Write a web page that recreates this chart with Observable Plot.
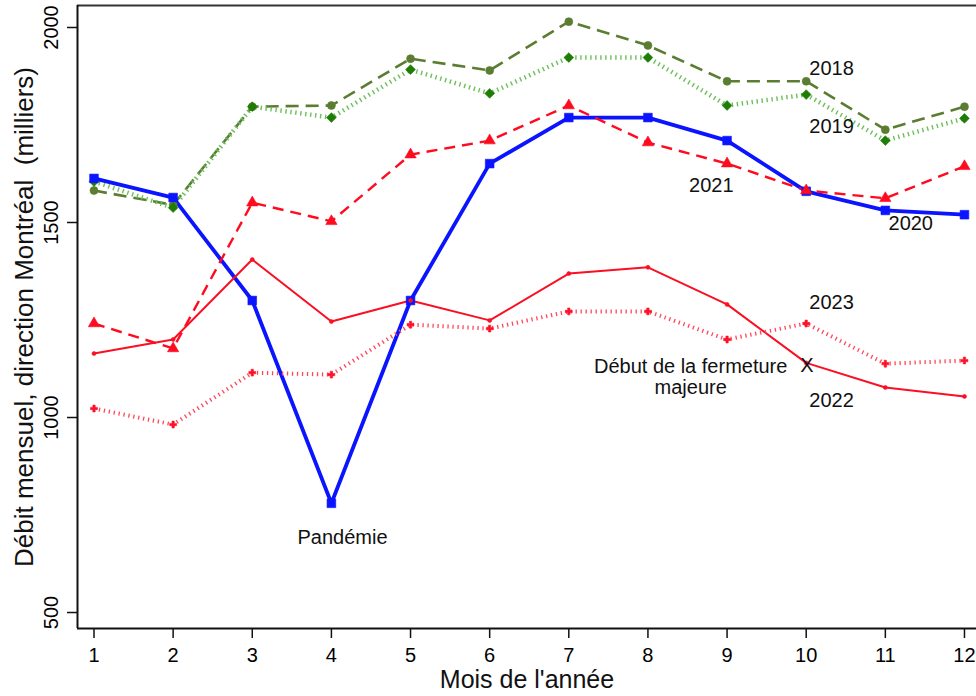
<!DOCTYPE html>
<html>
<head>
<meta charset="utf-8">
<script src="https://cdn.jsdelivr.net/npm/d3@7"></script>
<script src="https://cdn.jsdelivr.net/npm/@observablehq/plot@0.6"></script>
<style>
  html, body { margin: 0; padding: 0; background: #fff; }
</style>
</head>
<body>
<div id="chart"></div>
<script>
// ---- Data ----
const months = [1, 2, 3, 4, 5, 6, 7, 8, 9, 10, 11, 12];
const yTicks = [500, 1000, 1500, 2000];

const v2018 = [1582, 1545, 1797, 1800, 1920, 1890, 2015, 1954, 1862, 1862, 1738, 1797];
const v2019 = [1605, 1538, 1797, 1769, 1892, 1831, 1923, 1923, 1800, 1828, 1710, 1767];
const v2020 = [1613, 1564, 1300, 780, 1300, 1651, 1769, 1769, 1710, 1580, 1531, 1520];
const v2021 = [1241, 1177, 1551, 1503, 1674, 1710, 1800, 1705, 1651, 1582, 1562, 1644];
const v2022 = [1164, 1200, 1405, 1246, 1300, 1249, 1369, 1385, 1290, 1140, 1077, 1054];
const v2023 = [1023, 982, 1115, 1110, 1238, 1228, 1272, 1272, 1200, 1241, 1138, 1146];

const years = ["2018", "2019", "2020", "2021", "2022", "2023"];
const valuesByYear = {"2018": v2018, "2019": v2019, "2020": v2020, "2021": v2021, "2022": v2022, "2023": v2023};

// Series labels (data coordinates: month, value)
const labelText  = ["2018", "2019", "2021", "2020", "2023", "2022"];
const labelMonth = [10.04, 10.04, 8.52, 11.04, 10.04, 10.04];
const labelValue = [1895, 1746, 1595, 1497, 1295, 1044];

// Annotations
const noteText  = ["Pandémie", "Début de la fermeture\nmajeure", "X"];
const noteMonth = [4.14, 8.54, 10.01];
const noteValue = [694, 1104, 1133];

const xTitle = "Mois de l'année";
const yTitle = "Débit mensuel, direction Montréal  (milliers)";

// ---- Styles ----
const styles = {
  "2018": {stroke: "#5a7d32", width: 2.6, dash: "13,7", cap: "butt", symbol: "circle", r: 4, fill: "#5a7d32"},
  "2019": {stroke: "#6cbf5a", width: 4.5, dash: "1.4,3.6", cap: "butt", symbol: "diamond2", r: 4.4, fill: "#1f7d05"},
  "2020": {stroke: "#0a14ff", width: 3.8, dash: null, cap: "round", symbol: "square", r: 4.9, fill: "#0a14ff"},
  "2021": {stroke: "#ff0a1e", width: 2.4, dash: "11,7", cap: "butt", symbol: "triangle", r: 4.2, fill: "#ff0a1e"},
  "2022": {stroke: "#fa0f23", width: 2.0, dash: null, cap: "round", symbol: "circle", r: 2, fill: "#fa0f23"},
  "2023": {stroke: "#ff4658", width: 4, dash: "1.3,3.7", cap: "butt", symbol: "cross", r: 2.9, fill: "#ff1028"}
};

const xDomain = [0.7915, 12.152];
const yDomain = [459, 2056.4];

const marks = [];
for (const yr of years) {
  const s = styles[yr];
  const rows = months.map((m, i) => ({month: m, value: valuesByYear[yr][i], year: yr}));
  marks.push(Plot.line(rows, {
    x: "month", y: "value", stroke: s.stroke, strokeWidth: s.width,
    strokeDasharray: s.dash, strokeLinecap: s.cap, strokeLinejoin: "round"
  }));
}
for (const yr of years) {
  const s = styles[yr];
  const rows = months.map((m, i) => ({month: m, value: valuesByYear[yr][i], year: yr}));
  marks.push(Plot.dot(rows, {
    x: "month", y: "value", symbol: () => s.symbol, r: s.r, fill: s.fill, stroke: s.fill, strokeWidth: 0.6
  }));
}

const labels = labelText.map((t, i) => ({text: t, month: labelMonth[i], value: labelValue[i]}));
const notes = noteText.map((t, i) => ({text: t, month: noteMonth[i], value: noteValue[i]}));

const chart = Plot.plot({
  width: 976,
  height: 696,
  marginLeft: 77,
  marginRight: 0,
  marginTop: 5,
  marginBottom: 68,
  style: {fontFamily: "'Liberation Sans', Arial, Helvetica, sans-serif", background: "#fff", color: "#000"},
  x: {domain: xDomain},
  y: {domain: yDomain},
  symbol: {type: "identity"},
  marks: [
    Plot.axisX({ticks: months, tickSize: 10, tickPadding: 9, fontSize: 20, label: null, stroke: "#111", strokeWidth: 1.5, tickFormat: d => String(d)}),
    Plot.axisY({ticks: yTicks, tickSize: 10, tickPadding: 10, tickRotate: -90, fontSize: 20, label: null, stroke: "#111", strokeWidth: 1.5, tickFormat: d => String(d)}),
    Plot.ruleY([yDomain[1]], {stroke: "#333", strokeWidth: 2}),
    Plot.ruleX([xDomain[0]], {stroke: "#111", strokeWidth: 2}),
    Plot.ruleY([yDomain[0]], {stroke: "#111", strokeWidth: 2}),
    ...marks,
    Plot.text(labels, {x: "month", y: "value", text: "text", textAnchor: "start", fontSize: 20, fill: "#111"}),
    Plot.text(notes, {x: "month", y: "value", text: "text", textAnchor: "middle", fontSize: 20, lineHeight: 1.05, fill: "#111"}),
    Plot.text([xTitle], {frameAnchor: "bottom", dy: 51.5, textAnchor: "middle", lineAnchor: "middle", fontSize: 25, fill: "#111", text: d => d}),
    Plot.text([yTitle], {frameAnchor: "left", dx: -53, rotate: -90, textAnchor: "middle", lineAnchor: "middle", fontSize: 26, fill: "#111", text: d => d})
  ]
});
document.getElementById("chart").appendChild(chart);
</script>
</body>
</html>
